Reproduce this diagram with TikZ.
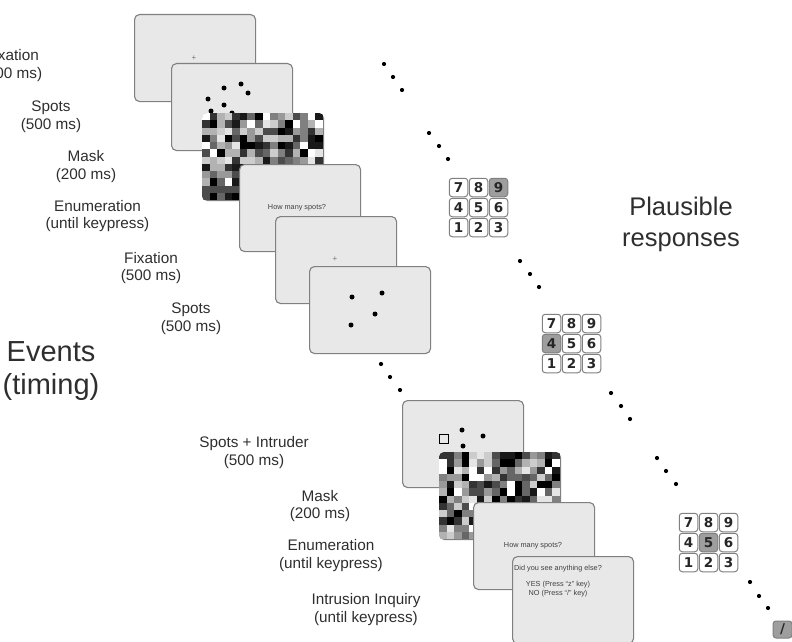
\documentclass[tikz,border=0pt]{standalone}
\usepackage{fontspec}
\setmainfont{Liberation Sans}
\newfontfamily\keyfont{DejaVu Sans}
\usetikzlibrary{calc}
\newcommand\mykeypad[4]{%
  \foreach \d/\c/\r in {7/0/0,8/1/0,9/2/0,4/0/1,5/1/1,6/2/1,1/0/2,2/1/2,3/2/2}{%
    \ifnum\d=#4\relax\def\kfill{black!38}\else\def\kfill{white}\fi
    \node[key, fill=\kfill] (#1-\d) at (#2+9.5+20*\c, #3+9.5+20*\r) {\d};
  }}
\newcommand\mymask[1]{%
  \begin{scope}
    \clip[rounded corners=5pt] (#1.north west) rectangle (#1.south east);
    \foreach \i in {0,...,15}{%
      \foreach \j in {0,...,11}{%
        \pgfmathsetmacro{\g}{int(random(0,10))}%
        \pgfmathsetmacro{\gg}{int(\g*10)}%
        \fill[black!\gg] ($(#1.north west)+(\i*7.5625,\j*7.25)$) rectangle ++(7.7,7.4);
      }}
  \end{scope}}
\begin{document}
\begin{tikzpicture}[x=1pt,y=-1pt,
  screen/.style={draw=black!50, fill=black!9, rounded corners=5pt, line width=1.1pt,
    minimum width=121pt, minimum height=87pt, anchor=north west, inner sep=0},
  lbl/.style={font=\fontsize{15.3}{17.5}\selectfont, align=center, text=black!82, inner sep=0},
  big/.style={font=\fontsize{29}{33}\selectfont, align=center, text=black!82, inner sep=0},
  big2/.style={font=\fontsize{25.5}{31}\selectfont, align=center, text=black!82, inner sep=0},
  small/.style={font=\fontsize{7.3}{9}\selectfont, align=center, text=black!75, inner sep=0},
  cross/.style={font=\fontsize{8}{8}\selectfont, text=black!55, inner sep=0},
  spot/.style={circle, fill=black, inner sep=0, minimum size=5pt},
  edot/.style={circle, fill=black, inner sep=0, minimum size=4.2pt},
  key/.style={draw=black!50, rounded corners=3pt, line width=1pt, minimum width=18.5pt,
    minimum height=18.5pt, inner sep=0, text=black!85,
    font=\keyfont\bfseries\fontsize{13.5}{13.5}\selectfont},
  intr/.style={draw=black, fill=black!9, line width=1.2pt, minimum size=8.5pt, inner sep=0}
]
\useasboundingbox (0,0) rectangle (792,642);
\pgfmathsetseed{2024}

% ---------- top sequence ----------
\node[screen] (s1) at (134,14) {};
\node[cross] (c1) at (194,58) {+};
\node[screen] (s2) at (171,63) {};
\foreach \p [count=\k] in {(224,88),(241,84),(248,93),(208,99),(224,105),(211,111),(232,113)}
  \node[spot] (s2d\k) at \p {};
\node[screen] (s3) at (202,113) {};
\mymask{s3}
\node[screen] (s4) at (239,164) {};
\node[small] (s4t) at (297,208) {How many spots?};
\node[screen] (s5) at (275,216) {};
\node[cross] (c5) at (335,259) {+};
\node[screen] (s6) at (309,266) {};
\foreach \p [count=\k] in {(352,297),(382,293),(375,314),(351,325)}
  \node[spot] (s6d\k) at \p {};

% ---------- bottom sequence ----------
\node[screen] (s7) at (402,400) {};
\node[intr] (intruder) at (444,439) {};
\foreach \p [count=\k] in {(462,430),(483,436),(463,446)}
  \node[spot] (s7d\k) at \p {};
\node[screen] (s8) at (439,452) {};
\mymask{s8}
\node[screen] (s9) at (473,502) {};
\node[small] (s9t) at (533,546) {How many spots?};
\node[screen] (s10) at (512,556) {};
\node[small] (s10t) at (558,581) {Did you see anything else?\\[7pt]YES (Press “z” key)\\NO (Press “/” key)};

% ---------- ellipsis dots ----------
\foreach \p [count=\k] in {(384,64),(393,77),(402,90),(429,133),(439,146),(448,159),
  (520,261),(530,274),(539,287),(381,364),(390,377),(400,390),
  (611,393),(621,406),(630,419),(657,458),(666,471),(676,484),
  (750,582),(759,596),(768,608)}
  \node[edot] (e\k) at \p {};

% ---------- keypads ----------
\mykeypad{ka}{449}{178}{9}
\mykeypad{kb}{542}{314}{4}
\mykeypad{kc}{679}{513}{5}
\node[key, fill=black!38, minimum width=19pt, minimum height=17pt] (slash) at (782.5,629.5) {/};

% ---------- labels ----------
\node[lbl] (l1) at (12,65.5) {Fixation\\(500 ms)};
\node[lbl] (l2) at (51,116.5) {Spots\\(500 ms)};
\node[lbl] (l3) at (86,166.5) {Mask\\(200 ms)};
\node[lbl] (l4) at (97.5,216) {Enumeration\\(until keypress)};
\node[lbl] (l5) at (151,268) {Fixation\\(500 ms)};
\node[lbl] (l6) at (191,318.5) {Spots\\(500 ms)};
\node[big] (events) at (51,371.5) {Events\\(timing)};
\node[big2] (plaus) at (681,224.5) {Plausible\\responses};
\node[lbl] (l7) at (254,452.5) {Spots + Intruder\\(500 ms)};
\node[lbl] (l8) at (320,506) {Mask\\(200 ms)};
\node[lbl] (l9) at (331,555.5) {Enumeration\\(until keypress)};
\node[lbl] (l10) at (366,609.5) {Intrusion Inquiry\\(until keypress)};
\end{tikzpicture}
\end{document}
